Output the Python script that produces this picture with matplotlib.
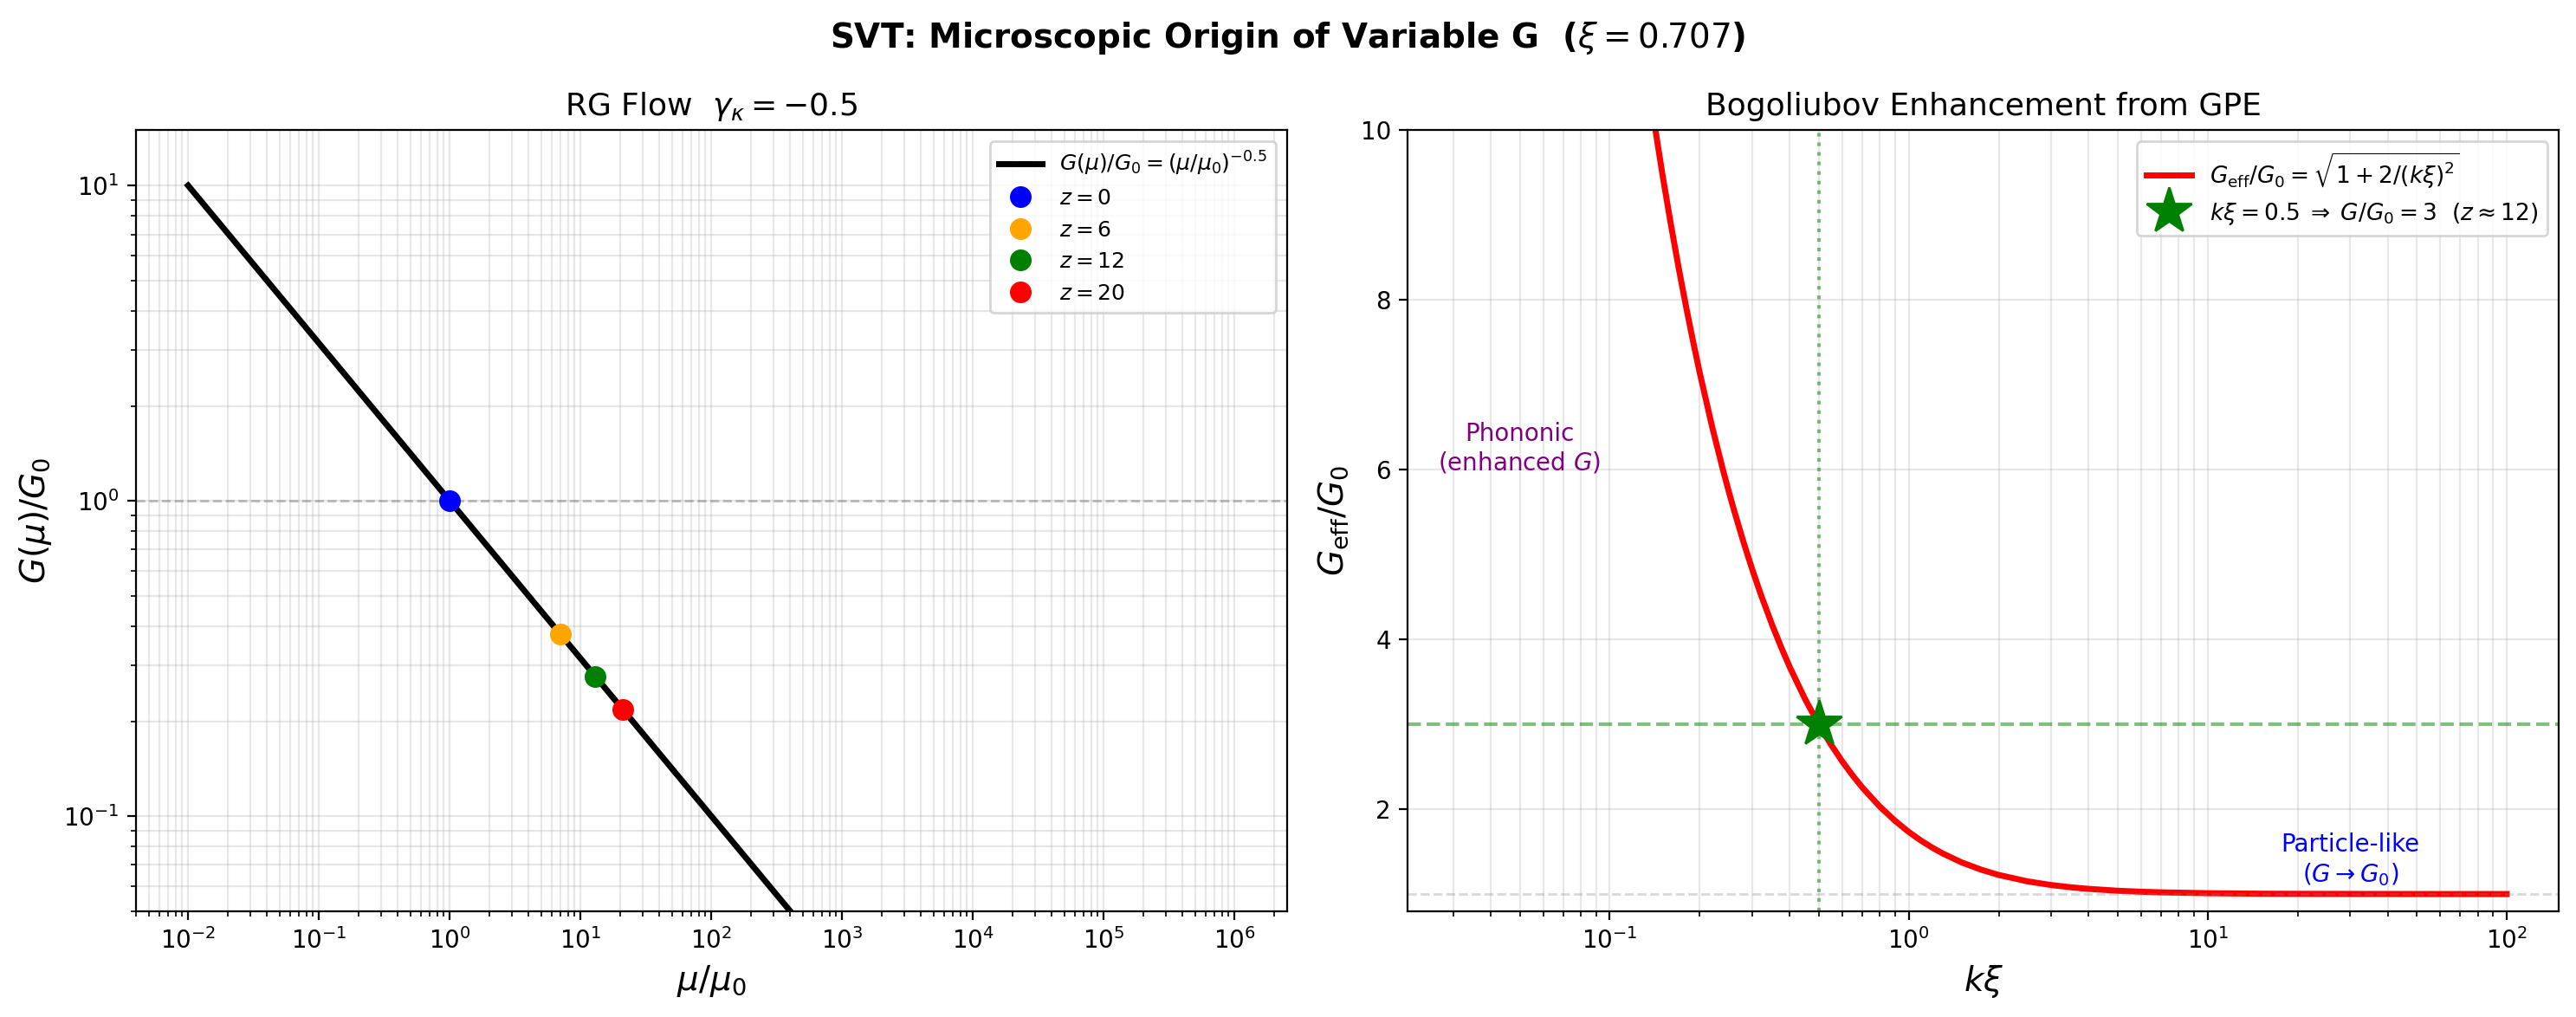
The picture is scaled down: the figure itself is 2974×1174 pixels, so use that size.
import numpy as np
import matplotlib
matplotlib.use("Agg")
import matplotlib.pyplot as plt

# left panel: RG flow, G(mu)/G0 = (mu/mu0)^-0.5
mu_line = [1e-2, 1e-1, 1e0, 1e1, 1e2, 1e3, 1e4, 1e5, 1e6]
G_line = [10.0, 3.162, 1.0, 0.3162, 0.1, 0.03162, 0.01, 0.003162, 0.001]

z_vals = [0, 6, 12, 20]
mu_pts = [1, 7, 13, 21]
G_pts = [1.0, 0.378, 0.277, 0.218]
pt_colors = ['blue', 'orange', 'green', 'red']

# right panel: Bogoliubov enhancement
kxi = [0.0316, 0.05, 0.1, 0.12, 0.13, 0.14, 0.15, 0.16, 0.17, 0.18, 0.19, 0.2,
       0.22, 0.24, 0.25, 0.26, 0.28, 0.3, 0.32, 0.35, 0.375, 0.4, 0.45, 0.5,
       0.55, 0.6, 0.65, 0.7, 0.8, 0.9, 1.0, 1.1, 1.2, 1.3, 1.5, 1.75, 2.0,
       2.5, 3.0, 3.5, 4.0, 5.0, 6.0, 7.0, 10.0, 15.0, 20.0, 50.0, 100.0]
Geff = [44.7, 28.3, 14.18, 11.83, 10.92, 10.15, 9.481, 8.895, 8.379, 7.92, 7.51, 7.141,
        6.505, 5.977, 5.745, 5.531, 5.149, 4.819, 4.531, 4.163, 3.902, 3.674, 3.298, 3.0,
        2.759, 2.56, 2.395, 2.254, 2.031, 1.863, 1.732, 1.629, 1.546, 1.478, 1.374, 1.286, 1.225,
        1.149, 1.106, 1.079, 1.061, 1.039, 1.027, 1.02, 1.01, 1.004, 1.0025, 1.0004, 1.0001]
k_star = 0.5
G_star = 3.0

fig, (ax1, ax2) = plt.subplots(1, 2, figsize=(14.87, 5.87), dpi=200)
fig.subplots_adjust(left=0.0527, right=0.9934, top=0.8722, bottom=0.1042, wspace=0.105)

ax1.loglog(mu_line, G_line, 'k-', lw=2.5, label=r'$G(\mu)/G_0 = (\mu/\mu_0)^{-0.5}$')
for z, m, g, c in zip(z_vals, mu_pts, G_pts, pt_colors):
    ax1.plot(m, g, 'o', color=c, ms=8, label=f'$z={z}$', zorder=5)
ax1.axhline(1, color='gray', ls='--', alpha=0.5, lw=1)
ax1.set_ylim(0.05, 15)
ax1.set_xlabel(r'$\mu/\mu_0$', fontsize=14)
ax1.set_ylabel(r'$G(\mu)/G_0$', fontsize=14)
ax1.set_title(r'RG Flow  $\gamma_\kappa = -0.5$', fontsize=13)
ax1.legend(loc='upper right', fontsize=9)
ax1.grid(True, which='both', alpha=0.3)

ax2.semilogx(kxi, Geff, 'r-', lw=2.5, label=r'$G_{\rm eff}/G_0 = \sqrt{1 + 2/(k\xi)^2}$')
ax2.plot(k_star, G_star, '*', color='green', ms=20, zorder=5,
         label=r'$k\xi = 0.5 \;\Rightarrow\; G/G_0 = 3$  $(z \approx 12)$')
ax2.axhline(G_star, color='green', ls='--', alpha=0.5, lw=1.5)
ax2.axvline(k_star, color='green', ls=':', alpha=0.5, lw=1.5)
ax2.axhline(1, color='gray', ls='--', alpha=0.3, lw=1)
ax2.set_ylim(0.8, 10)
ax2.text(0.05, 6.25, 'Phononic\n(enhanced $G$)', color='purple', fontsize=10,
         ha='center', va='center')
ax2.text(30, 1.4, 'Particle-like\n($G \\to G_0$)', color='blue', fontsize=10,
         ha='center', va='center')
ax2.set_xlabel(r'$k\xi$', fontsize=14)
ax2.set_ylabel(r'$G_{\rm eff}/G_0$', fontsize=14)
ax2.set_title('Bogoliubov Enhancement from GPE', fontsize=13)
ax2.legend(loc='upper right', fontsize=9.5)
ax2.grid(True, which='both', alpha=0.3)

fig.suptitle(r'SVT: Microscopic Origin of Variable G  ($\xi = 0.707$)', fontsize=14, fontweight='bold')
plt.savefig('out.png', dpi=200)
